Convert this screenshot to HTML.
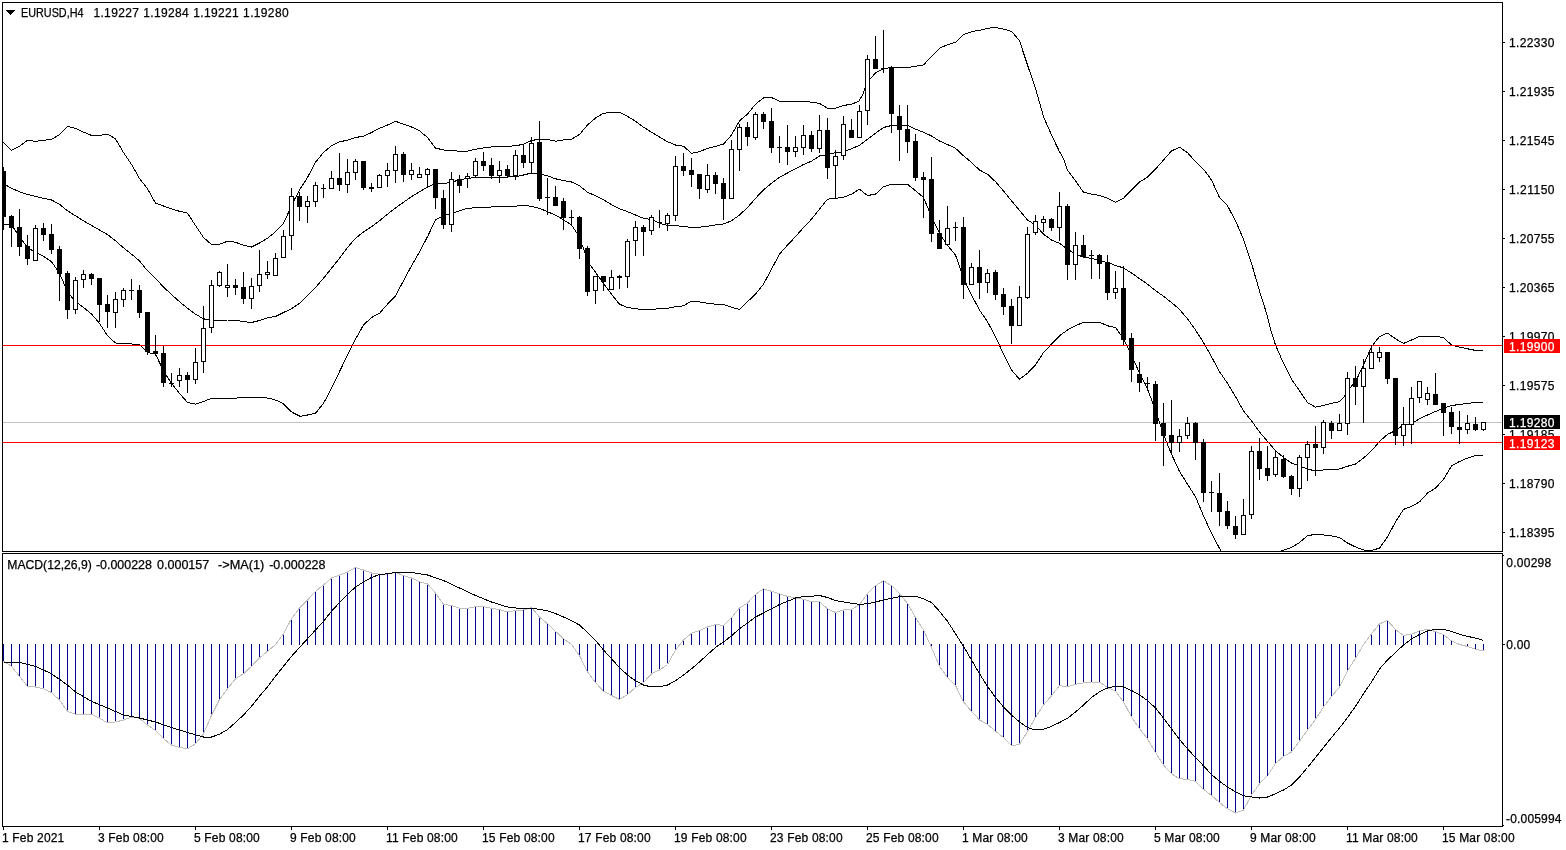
<!DOCTYPE html><html><head><meta charset="utf-8"><title>EURUSD,H4</title>
<style>html,body{margin:0;padding:0;background:#fff;overflow:hidden}svg{display:block}text{font-family:"Liberation Sans",sans-serif;font-size:12px;fill:#000;stroke:#000;stroke-width:.25px}.w{fill:#fff}.tw{fill:#fff;stroke:#fff}</style></head><body>
<svg width="1566" height="850" viewBox="0 0 1566 850">
<rect width="1566" height="850" fill="#fff"/>
<defs><clipPath id="cm"><rect x="3" y="3" width="1499" height="548"/></clipPath><clipPath id="cd"><rect x="3" y="554" width="1499" height="272"/></clipPath></defs>
<g shape-rendering="crispEdges" clip-path="url(#cm)">
<rect x="3" y="422" width="1499" height="1" fill="#c0c0c0"/>
<polyline points="3.5,142.3 11.5,150.3 19.5,146.3 27.5,140.3 35.5,141.3 43.5,140.3 51.5,139.4 59.5,134.6 67.5,126.3 75.5,128.4 83.5,132.1 91.5,135.4 99.5,135.4 107.5,134.1 115.5,138.8 123.5,152.5 131.5,164.4 139.5,178.5 147.5,188.8 155.5,203.1 163.5,206 171.5,208.8 179.5,211.3 187.5,213.1 195.5,225.5 203.5,237.5 211.5,244.5 219.5,244.2 227.5,241.3 235.5,242.2 243.5,245.3 251.5,247 259.5,243 267.5,238.3 275.5,231.7 283.5,223.3 289.3,210.8 294.3,200 299.5,190 307.5,177.5 315.5,162.2 323.5,152.5 331.5,145.8 339.5,141.7 347.5,140.3 355.5,137.5 363.5,136.2 371.5,132.5 379.5,128.3 387.5,125 395.5,121.3 403.5,124.2 411.5,127 419.5,130.8 427.5,137.5 435.5,148 443.5,150 451.5,150.5 459.5,151.2 467.5,151.2 475.5,149.2 483.5,148 491.5,147 499.5,146.7 507.5,146.3 515.5,145.8 523.5,144.2 531.5,140.5 539.5,139.2 547.5,139.5 555.5,141.2 563.5,140 571.5,139.2 579.5,134.5 587.5,125 595.5,118 603.5,113.3 611.5,112.2 619.5,112.2 627.5,116.3 635.5,121.3 643.5,127.2 651.5,132.2 659.5,137 667.5,141.7 675.5,145 683.5,146.2 691.5,153.3 699.5,151.7 707.5,148.3 715.5,146.3 723.5,144.2 731.5,135 739.5,120.8 747.5,114.2 755.5,104.2 763.5,98 771.5,97.5 779.5,101.3 787.5,101.3 795.5,101.3 803.5,101.3 811.5,102.2 819.5,103.3 827.5,108.3 835.5,108.3 843.5,105.5 851.5,104.2 858.8,101.3 863,94.2 865.5,86.7 870,79.2 875.5,73 883.5,68.8 891.5,67.5 899.5,67.5 907.5,67.5 915.5,66.3 923.5,65 928,60 931.5,56.7 939.5,48.3 947.5,44.7 955.5,42.2 963.5,34.7 971.5,31.7 979.5,30.3 987.5,28.3 995.5,27.5 1003.5,29.2 1011.5,31.3 1019.5,40.8 1027.5,65 1035.5,88.3 1043.5,116.7 1051.5,135 1059.5,151.7 1063.3,158.3 1067.5,170 1075.5,180.8 1083.5,192.2 1091.5,194.2 1099.5,195.3 1107.5,198.3 1115.5,202.2 1123.5,198.3 1131.5,190 1139.5,182 1147.5,177.2 1155.5,169.2 1163.5,160 1171.5,151 1179.5,147.2 1187.5,152.6 1195.5,161.7 1203.5,169.2 1211.5,180 1219.5,197.5 1227.5,205.8 1235.5,220.8 1243.5,239.2 1251.5,263.3 1259.5,291 1267.5,316.5 1270.8,330 1275.5,345 1283.5,363.3 1291.5,379.2 1299.5,390.8 1307.5,402.5 1315.5,407.2 1323.5,405.5 1331.5,403.3 1339.5,401.7 1344.2,396.7 1347.5,390.8 1355.5,381.7 1363.5,365 1371.5,346.7 1379.5,336.5 1387.5,333.1 1395.5,338.8 1403.5,343.4 1411.5,340 1419.5,336.3 1427.5,336.3 1435.5,336.3 1443.5,337.5 1451.5,345 1459.5,347.1 1467.5,348.8 1475.5,350.4 1483,350.4" fill="none" stroke="#000" stroke-width="1"/>
<polyline points="3,184 5.8,185 11.5,188.3 19.5,191.7 27.5,194.5 35.5,196.3 43.5,198.3 51.5,200 59.5,204.2 67.5,210.8 75.5,215.8 83.5,220.8 91.5,225.5 99.5,230 107.5,234.5 115.5,240.8 123.5,247.8 131.5,254.2 139.5,260.8 147.5,270.8 155.5,278.5 163.5,287 171.5,294.5 179.5,301.7 187.5,308.3 195.5,314.2 203.5,318.8 211.5,320.5 219.5,320.5 227.5,320 235.5,320 243.5,321.7 251.5,322.5 259.5,320.5 266,318.3 276,316.2 283.5,312.5 291.5,308.8 299.5,303.3 307.5,295.8 315.5,287.5 323.5,278.3 331.5,268.3 339.5,258.3 347.5,247.5 355.5,238.3 363.5,232 371.5,226.7 379.5,220.8 387.5,214.2 395.5,208 403.5,202.2 411.5,196.7 419.5,191.7 427.5,187 435.5,183.7 443.5,183.7 451.5,182 459.5,180 467.5,178.3 475.5,177.7 483.5,177.5 491.5,177.2 499.5,177 507.5,177 515.5,176.7 523.5,175 531.5,173 539.5,173.8 547.5,175.8 555.5,178.8 563.5,180.5 571.5,182 579.5,185.8 587.5,192.2 595.5,195.8 603.5,199.7 611.5,204.7 619.5,208.8 627.5,211.7 635.5,215 643.5,218.3 651.5,219.5 659.5,223.3 667.5,225.3 675.5,225.8 683.5,226.3 691.5,227.5 699.5,227.2 707.5,226.2 715.5,225 723.5,224 731.5,220.8 739.5,215 747.5,207.5 755.5,198.3 763.5,190 771.5,183.3 779.5,177.2 787.5,173 795.5,168.8 803.5,164.5 811.5,161.2 819.5,156 827.5,154.5 835.5,152.6 843.5,151.7 851.5,148.8 859.5,145.2 867.5,139.3 875.5,133.3 883.5,127.5 891.5,125.5 899.5,125.3 907.5,125.3 915.5,129.2 923.5,132.2 931.5,136 939.5,141 947.5,144.5 955.5,148.3 963.5,155.8 971.5,162.5 979.5,170 987.5,174.2 995.5,181.7 1003.5,191 1011.5,200.8 1019.5,210.4 1027.5,220 1035.5,225 1043.5,234.2 1051.5,240 1059.5,243.3 1067.5,249.2 1075.5,254 1083.5,257.2 1091.5,258.3 1099.5,260.6 1107.5,262.5 1115.5,265.4 1123.5,268 1131.5,273 1139.5,278.6 1147.5,284.2 1155.5,290.6 1163.5,296.3 1171.5,302.5 1179.5,309.4 1187.5,318.8 1195.5,330 1203.5,342.5 1211.5,356.7 1219.5,371.7 1227.5,383.3 1235.5,396.7 1243.5,410.8 1251.5,420.8 1259.5,432 1267.5,441.3 1275.5,450.8 1283.5,457.5 1291.5,463 1299.5,465.8 1307.5,469.2 1315.5,470.8 1323.5,470 1331.5,469.5 1339.5,469 1347.5,466.3 1355.5,464 1363.5,458 1371.5,450.8 1379.5,441.5 1387.5,434.4 1395.5,430.6 1403.5,425 1411.5,423.8 1419.5,418.8 1427.5,415 1435.5,411.5 1443.5,408.1 1451.5,405.6 1459.5,404.4 1467.5,403.5 1475.5,402.3 1483,402.3" fill="none" stroke="#000" stroke-width="1"/>
<polyline points="3.5,224.2 11.5,225 19.5,236.7 27.5,247.5 35.5,252.5 43.5,256.3 51.5,261.7 59.5,273.3 67.5,291.7 75.5,301.7 83.5,307.5 91.5,314 99.5,323.3 107.5,335.8 115.5,343 123.5,343.3 131.5,344 139.5,344.5 147.5,352.5 155.5,354 163.5,371 171.5,383.3 179.5,393.3 187.5,402.5 195.5,404.2 203.5,401.5 211.5,398.3 219.5,398.3 227.5,398.3 235.5,398.3 240,397.5 263.3,397.5 269.5,398.3 277.5,400.8 283.3,403.8 291.7,412 300,416.3 307.5,415 315.5,413.3 323.5,403.3 330.2,391 339.5,371.7 347.5,355 355.5,339.2 363.5,325 371.5,317.5 379.5,313.3 387.5,304.2 395.5,295.8 403.5,280.8 411.5,265.8 419.5,252 427.5,236.7 435.5,220 443.5,215.8 451.5,213.3 459.5,210.8 467.5,208.3 475.5,207.8 483.5,207.5 491.5,207 499.5,206.7 507.5,206.3 515.5,206.2 523.5,205.2 531.5,206.3 539.5,208.3 547.5,211.7 555.5,215.2 563.5,219.8 571.5,225 577,233.3 579.5,239 582.3,245.6 585,252.5 587.5,261.5 595.5,272.3 603.5,283.3 611.5,294.2 619.5,304.2 627.5,307.5 635.5,308.8 643.5,309.5 651.5,309.5 659.5,308.7 667.5,308.3 675.5,306.7 683.5,305.8 691.5,301.2 699.5,302 707.5,303.3 715.5,304.2 723.5,304.5 731.5,307.2 739.5,309.5 747.5,301.7 755.5,294.2 763.5,284.2 771.5,269.2 779.5,254.2 787.5,245 795.5,236.7 803.5,227.5 811.5,219.2 819.5,209.2 827.5,199.2 835.5,198.3 843.5,197.2 851.5,194.2 859.5,189.2 867.5,195.5 875.5,194.2 883.5,186.7 891.5,184.2 899.5,184.2 907.5,184.2 915.5,190.8 923.5,197.5 928.8,210 931.5,216.7 939.5,233.3 947.5,245.5 955.5,255 960.8,270 963.5,278.3 971.5,295 979.5,310 987.5,321.7 995.5,336.7 1003.5,354.2 1011.5,370 1019.5,379.2 1027.5,373.3 1035.5,365 1043.5,352.5 1051.5,344.2 1059.5,335.8 1067.5,330 1075.5,325.8 1083.5,322.2 1091.5,322.2 1099.5,322.2 1107.5,325.8 1115.5,327.5 1123.5,338.8 1131.5,355 1139.5,373 1147.5,389.2 1155.5,410 1163.5,434.5 1171.5,454.2 1179.5,471.5 1187.5,484.2 1195.5,496.7 1203.5,515.8 1211.5,533.3 1219.5,548.3 1227.5,563 1250,570 1270,556 1280.8,551 1291.5,547.5 1299.5,542.5 1307.5,535.8 1315.5,534.2 1323.5,535 1331.5,536 1335,536.3 1340.6,538.1 1347.5,543.1 1355.5,546.9 1363.5,550 1371.5,550.6 1379.5,548.1 1387.5,536.9 1395.5,521.9 1403.5,509.4 1411.5,506.3 1419.5,501.9 1427.5,493.1 1435.5,488.1 1443.5,479.4 1451.5,466 1459.5,461.5 1467.5,458.1 1475.5,455.4 1483,455.4" fill="none" stroke="#000" stroke-width="1"/>
<rect x="3" y="345" width="1499" height="1" fill="#f00"/>
<rect x="3" y="442" width="1499" height="1" fill="#f00"/>
<rect x="3" y="167" width="1" height="63"/>
<rect x="1" y="171" width="5" height="46"/>
<rect x="11" y="215" width="1" height="32"/>
<rect x="9" y="216" width="5" height="12"/>
<rect x="19" y="209" width="1" height="47"/>
<rect x="17" y="227" width="5" height="20"/>
<rect x="27" y="235" width="1" height="30"/>
<rect x="25" y="246" width="5" height="13"/>
<rect x="35" y="225" width="1" height="36"/>
<rect x="33" y="228" width="5" height="33"/>
<rect x="34" y="229" width="3" height="31" class="w"/>
<rect x="43" y="223" width="1" height="18"/>
<rect x="41" y="228" width="5" height="7"/>
<rect x="51" y="224" width="1" height="30"/>
<rect x="49" y="234" width="5" height="16"/>
<rect x="59" y="246" width="1" height="55"/>
<rect x="57" y="249" width="5" height="25"/>
<rect x="67" y="271" width="1" height="48"/>
<rect x="65" y="273" width="5" height="37"/>
<rect x="75" y="277" width="1" height="37"/>
<rect x="73" y="280" width="5" height="30"/>
<rect x="74" y="281" width="3" height="28" class="w"/>
<rect x="83" y="270" width="1" height="18"/>
<rect x="81" y="274" width="5" height="6"/>
<rect x="82" y="275" width="3" height="4" class="w"/>
<rect x="91" y="273" width="1" height="12"/>
<rect x="89" y="274" width="5" height="5"/>
<rect x="99" y="278" width="1" height="44"/>
<rect x="97" y="278" width="5" height="27"/>
<rect x="107" y="295" width="1" height="33"/>
<rect x="105" y="304" width="5" height="8"/>
<rect x="115" y="292" width="1" height="36"/>
<rect x="113" y="299" width="5" height="14"/>
<rect x="114" y="300" width="3" height="12" class="w"/>
<rect x="123" y="288" width="1" height="19"/>
<rect x="121" y="290" width="5" height="10"/>
<rect x="122" y="291" width="3" height="8" class="w"/>
<rect x="131" y="279" width="1" height="21"/>
<rect x="129" y="290" width="5" height="1"/>
<rect x="139" y="285" width="1" height="33"/>
<rect x="137" y="290" width="5" height="23"/>
<rect x="147" y="312" width="1" height="43"/>
<rect x="145" y="312" width="5" height="40"/>
<rect x="155" y="335" width="1" height="21"/>
<rect x="153" y="351" width="5" height="3"/>
<rect x="163" y="346" width="1" height="41"/>
<rect x="161" y="353" width="5" height="30"/>
<rect x="171" y="373" width="1" height="14"/>
<rect x="169" y="383" width="5" height="1"/>
<rect x="179" y="368" width="1" height="19"/>
<rect x="177" y="375" width="5" height="6"/>
<rect x="178" y="376" width="3" height="4" class="w"/>
<rect x="187" y="372" width="1" height="21"/>
<rect x="185" y="375" width="5" height="5"/>
<rect x="195" y="348" width="1" height="36"/>
<rect x="193" y="362" width="5" height="18"/>
<rect x="194" y="363" width="3" height="16" class="w"/>
<rect x="203" y="306" width="1" height="67"/>
<rect x="201" y="328" width="5" height="34"/>
<rect x="202" y="329" width="3" height="32" class="w"/>
<rect x="211" y="280" width="1" height="53"/>
<rect x="209" y="285" width="5" height="43"/>
<rect x="210" y="286" width="3" height="41" class="w"/>
<rect x="219" y="271" width="1" height="16"/>
<rect x="217" y="272" width="5" height="14"/>
<rect x="218" y="273" width="3" height="12" class="w"/>
<rect x="227" y="264" width="1" height="33"/>
<rect x="225" y="285" width="5" height="3"/>
<rect x="226" y="286" width="3" height="1" class="w"/>
<rect x="235" y="279" width="1" height="16"/>
<rect x="233" y="285" width="5" height="3"/>
<rect x="243" y="272" width="1" height="32"/>
<rect x="241" y="287" width="5" height="12"/>
<rect x="251" y="278" width="1" height="31"/>
<rect x="249" y="286" width="5" height="13"/>
<rect x="250" y="287" width="3" height="11" class="w"/>
<rect x="259" y="250" width="1" height="42"/>
<rect x="257" y="274" width="5" height="12"/>
<rect x="258" y="275" width="3" height="10" class="w"/>
<rect x="267" y="261" width="1" height="18"/>
<rect x="265" y="272" width="5" height="3"/>
<rect x="266" y="273" width="3" height="1" class="w"/>
<rect x="275" y="253" width="1" height="23"/>
<rect x="273" y="258" width="5" height="18"/>
<rect x="274" y="259" width="3" height="16" class="w"/>
<rect x="283" y="230" width="1" height="28"/>
<rect x="281" y="236" width="5" height="22"/>
<rect x="282" y="237" width="3" height="20" class="w"/>
<rect x="291" y="188" width="1" height="62"/>
<rect x="289" y="196" width="5" height="40"/>
<rect x="290" y="197" width="3" height="38" class="w"/>
<rect x="299" y="192" width="1" height="29"/>
<rect x="297" y="196" width="5" height="11"/>
<rect x="307" y="196" width="1" height="27"/>
<rect x="305" y="201" width="5" height="6"/>
<rect x="306" y="202" width="3" height="4" class="w"/>
<rect x="315" y="182" width="1" height="25"/>
<rect x="313" y="185" width="5" height="17"/>
<rect x="314" y="186" width="3" height="15" class="w"/>
<rect x="323" y="184" width="1" height="14"/>
<rect x="321" y="188" width="5" height="1"/>
<rect x="331" y="171" width="1" height="18"/>
<rect x="329" y="178" width="5" height="11"/>
<rect x="330" y="179" width="3" height="9" class="w"/>
<rect x="339" y="153" width="1" height="38"/>
<rect x="337" y="178" width="5" height="7"/>
<rect x="347" y="159" width="1" height="34"/>
<rect x="345" y="172" width="5" height="13"/>
<rect x="346" y="173" width="3" height="11" class="w"/>
<rect x="355" y="159" width="1" height="21"/>
<rect x="353" y="161" width="5" height="12"/>
<rect x="354" y="162" width="3" height="10" class="w"/>
<rect x="363" y="161" width="1" height="29"/>
<rect x="361" y="161" width="5" height="27"/>
<rect x="371" y="183" width="1" height="9"/>
<rect x="369" y="187" width="5" height="2"/>
<rect x="379" y="174" width="1" height="14"/>
<rect x="377" y="175" width="5" height="13"/>
<rect x="378" y="176" width="3" height="11" class="w"/>
<rect x="387" y="163" width="1" height="24"/>
<rect x="385" y="170" width="5" height="6"/>
<rect x="386" y="171" width="3" height="4" class="w"/>
<rect x="395" y="146" width="1" height="37"/>
<rect x="393" y="154" width="5" height="17"/>
<rect x="394" y="155" width="3" height="15" class="w"/>
<rect x="403" y="152" width="1" height="30"/>
<rect x="401" y="154" width="5" height="21"/>
<rect x="411" y="163" width="1" height="17"/>
<rect x="409" y="170" width="5" height="5"/>
<rect x="410" y="171" width="3" height="3" class="w"/>
<rect x="419" y="167" width="1" height="11"/>
<rect x="417" y="174" width="5" height="4"/>
<rect x="418" y="175" width="3" height="2" class="w"/>
<rect x="427" y="168" width="1" height="18"/>
<rect x="425" y="169" width="5" height="6"/>
<rect x="426" y="170" width="3" height="4" class="w"/>
<rect x="435" y="169" width="1" height="40"/>
<rect x="433" y="169" width="5" height="29"/>
<rect x="443" y="190" width="1" height="39"/>
<rect x="441" y="198" width="5" height="27"/>
<rect x="451" y="172" width="1" height="60"/>
<rect x="449" y="179" width="5" height="46"/>
<rect x="450" y="180" width="3" height="44" class="w"/>
<rect x="459" y="175" width="1" height="18"/>
<rect x="457" y="179" width="5" height="7"/>
<rect x="467" y="173" width="1" height="15"/>
<rect x="465" y="176" width="5" height="3"/>
<rect x="466" y="177" width="3" height="1" class="w"/>
<rect x="475" y="158" width="1" height="19"/>
<rect x="473" y="161" width="5" height="15"/>
<rect x="474" y="162" width="3" height="13" class="w"/>
<rect x="483" y="152" width="1" height="19"/>
<rect x="481" y="161" width="5" height="5"/>
<rect x="491" y="158" width="1" height="21"/>
<rect x="489" y="165" width="5" height="11"/>
<rect x="499" y="161" width="1" height="22"/>
<rect x="497" y="170" width="5" height="6"/>
<rect x="498" y="171" width="3" height="4" class="w"/>
<rect x="507" y="165" width="1" height="13"/>
<rect x="505" y="169" width="5" height="7"/>
<rect x="515" y="150" width="1" height="30"/>
<rect x="513" y="155" width="5" height="21"/>
<rect x="514" y="156" width="3" height="19" class="w"/>
<rect x="523" y="144" width="1" height="24"/>
<rect x="521" y="155" width="5" height="8"/>
<rect x="531" y="137" width="1" height="36"/>
<rect x="529" y="143" width="5" height="20"/>
<rect x="530" y="144" width="3" height="18" class="w"/>
<rect x="539" y="121" width="1" height="80"/>
<rect x="537" y="142" width="5" height="57"/>
<rect x="547" y="178" width="1" height="37"/>
<rect x="545" y="197" width="5" height="1"/>
<rect x="555" y="186" width="1" height="20"/>
<rect x="553" y="197" width="5" height="9"/>
<rect x="563" y="198" width="1" height="32"/>
<rect x="561" y="201" width="5" height="17"/>
<rect x="571" y="210" width="1" height="16"/>
<rect x="569" y="217" width="5" height="1"/>
<rect x="579" y="216" width="1" height="43"/>
<rect x="577" y="217" width="5" height="32"/>
<rect x="587" y="246" width="1" height="50"/>
<rect x="585" y="248" width="5" height="44"/>
<rect x="595" y="276" width="1" height="28"/>
<rect x="593" y="276" width="5" height="15"/>
<rect x="594" y="277" width="3" height="13" class="w"/>
<rect x="603" y="276" width="1" height="15"/>
<rect x="601" y="276" width="5" height="6"/>
<rect x="611" y="270" width="1" height="20"/>
<rect x="609" y="277" width="5" height="13"/>
<rect x="610" y="278" width="3" height="11" class="w"/>
<rect x="619" y="275" width="1" height="14"/>
<rect x="617" y="276" width="5" height="2"/>
<rect x="627" y="239" width="1" height="49"/>
<rect x="625" y="241" width="5" height="36"/>
<rect x="626" y="242" width="3" height="34" class="w"/>
<rect x="635" y="221" width="1" height="35"/>
<rect x="633" y="227" width="5" height="14"/>
<rect x="634" y="228" width="3" height="12" class="w"/>
<rect x="643" y="225" width="1" height="31"/>
<rect x="641" y="227" width="5" height="5"/>
<rect x="651" y="215" width="1" height="20"/>
<rect x="649" y="217" width="5" height="14"/>
<rect x="650" y="218" width="3" height="12" class="w"/>
<rect x="659" y="210" width="1" height="18"/>
<rect x="657" y="222" width="5" height="1"/>
<rect x="667" y="213" width="1" height="18"/>
<rect x="665" y="215" width="5" height="9"/>
<rect x="666" y="216" width="3" height="7" class="w"/>
<rect x="675" y="156" width="1" height="65"/>
<rect x="673" y="166" width="5" height="50"/>
<rect x="674" y="167" width="3" height="48" class="w"/>
<rect x="683" y="153" width="1" height="23"/>
<rect x="681" y="166" width="5" height="5"/>
<rect x="691" y="158" width="1" height="29"/>
<rect x="689" y="170" width="5" height="5"/>
<rect x="699" y="174" width="1" height="25"/>
<rect x="697" y="174" width="5" height="15"/>
<rect x="707" y="164" width="1" height="29"/>
<rect x="705" y="175" width="5" height="15"/>
<rect x="706" y="176" width="3" height="13" class="w"/>
<rect x="715" y="172" width="1" height="22"/>
<rect x="713" y="175" width="5" height="9"/>
<rect x="723" y="178" width="1" height="42"/>
<rect x="721" y="183" width="5" height="16"/>
<rect x="731" y="140" width="1" height="59"/>
<rect x="729" y="149" width="5" height="50"/>
<rect x="730" y="150" width="3" height="48" class="w"/>
<rect x="739" y="124" width="1" height="47"/>
<rect x="737" y="127" width="5" height="23"/>
<rect x="738" y="128" width="3" height="21" class="w"/>
<rect x="747" y="122" width="1" height="24"/>
<rect x="745" y="127" width="5" height="10"/>
<rect x="755" y="112" width="1" height="28"/>
<rect x="753" y="114" width="5" height="24"/>
<rect x="754" y="115" width="3" height="22" class="w"/>
<rect x="763" y="112" width="1" height="17"/>
<rect x="761" y="114" width="5" height="8"/>
<rect x="771" y="108" width="1" height="45"/>
<rect x="769" y="121" width="5" height="27"/>
<rect x="779" y="136" width="1" height="27"/>
<rect x="777" y="147" width="5" height="1"/>
<rect x="787" y="125" width="1" height="40"/>
<rect x="785" y="147" width="5" height="5"/>
<rect x="795" y="136" width="1" height="21"/>
<rect x="793" y="147" width="5" height="5"/>
<rect x="794" y="148" width="3" height="3" class="w"/>
<rect x="803" y="125" width="1" height="30"/>
<rect x="801" y="135" width="5" height="13"/>
<rect x="802" y="136" width="3" height="11" class="w"/>
<rect x="811" y="131" width="1" height="21"/>
<rect x="809" y="135" width="5" height="14"/>
<rect x="819" y="115" width="1" height="38"/>
<rect x="817" y="130" width="5" height="19"/>
<rect x="818" y="131" width="3" height="17" class="w"/>
<rect x="827" y="118" width="1" height="61"/>
<rect x="825" y="130" width="5" height="38"/>
<rect x="835" y="150" width="1" height="48"/>
<rect x="833" y="156" width="5" height="10"/>
<rect x="834" y="157" width="3" height="8" class="w"/>
<rect x="843" y="116" width="1" height="44"/>
<rect x="841" y="124" width="5" height="32"/>
<rect x="842" y="125" width="3" height="30" class="w"/>
<rect x="851" y="119" width="1" height="19"/>
<rect x="849" y="130" width="5" height="8"/>
<rect x="859" y="105" width="1" height="33"/>
<rect x="857" y="111" width="5" height="27"/>
<rect x="858" y="112" width="3" height="25" class="w"/>
<rect x="867" y="55" width="1" height="70"/>
<rect x="865" y="59" width="5" height="52"/>
<rect x="866" y="60" width="3" height="50" class="w"/>
<rect x="875" y="36" width="1" height="33"/>
<rect x="873" y="59" width="5" height="10"/>
<rect x="883" y="30" width="1" height="43"/>
<rect x="881" y="68" width="5" height="1"/>
<rect x="891" y="66" width="1" height="67"/>
<rect x="889" y="67" width="5" height="47"/>
<rect x="899" y="105" width="1" height="56"/>
<rect x="897" y="116" width="5" height="14"/>
<rect x="907" y="105" width="1" height="48"/>
<rect x="905" y="129" width="5" height="13"/>
<rect x="915" y="134" width="1" height="47"/>
<rect x="913" y="141" width="5" height="37"/>
<rect x="923" y="172" width="1" height="46"/>
<rect x="921" y="177" width="5" height="3"/>
<rect x="931" y="157" width="1" height="85"/>
<rect x="929" y="179" width="5" height="55"/>
<rect x="939" y="220" width="1" height="29"/>
<rect x="937" y="233" width="5" height="16"/>
<rect x="947" y="206" width="1" height="39"/>
<rect x="945" y="228" width="5" height="17"/>
<rect x="946" y="229" width="3" height="15" class="w"/>
<rect x="955" y="222" width="1" height="19"/>
<rect x="953" y="227" width="5" height="1"/>
<rect x="963" y="217" width="1" height="82"/>
<rect x="961" y="227" width="5" height="58"/>
<rect x="971" y="263" width="1" height="22"/>
<rect x="969" y="267" width="5" height="18"/>
<rect x="970" y="268" width="3" height="16" class="w"/>
<rect x="979" y="250" width="1" height="49"/>
<rect x="977" y="267" width="5" height="16"/>
<rect x="987" y="269" width="1" height="24"/>
<rect x="985" y="273" width="5" height="10"/>
<rect x="986" y="274" width="3" height="8" class="w"/>
<rect x="995" y="270" width="1" height="30"/>
<rect x="993" y="272" width="5" height="23"/>
<rect x="1003" y="288" width="1" height="27"/>
<rect x="1001" y="294" width="5" height="13"/>
<rect x="1011" y="299" width="1" height="45"/>
<rect x="1009" y="306" width="5" height="20"/>
<rect x="1019" y="286" width="1" height="40"/>
<rect x="1017" y="297" width="5" height="29"/>
<rect x="1018" y="298" width="3" height="27" class="w"/>
<rect x="1027" y="227" width="1" height="72"/>
<rect x="1025" y="234" width="5" height="64"/>
<rect x="1026" y="235" width="3" height="62" class="w"/>
<rect x="1035" y="215" width="1" height="20"/>
<rect x="1033" y="221" width="5" height="12"/>
<rect x="1034" y="222" width="3" height="10" class="w"/>
<rect x="1043" y="216" width="1" height="16"/>
<rect x="1041" y="219" width="5" height="4"/>
<rect x="1042" y="220" width="3" height="2" class="w"/>
<rect x="1051" y="218" width="1" height="13"/>
<rect x="1049" y="219" width="5" height="9"/>
<rect x="1059" y="192" width="1" height="49"/>
<rect x="1057" y="206" width="5" height="22"/>
<rect x="1058" y="207" width="3" height="20" class="w"/>
<rect x="1067" y="204" width="1" height="76"/>
<rect x="1065" y="206" width="5" height="59"/>
<rect x="1075" y="232" width="1" height="48"/>
<rect x="1073" y="245" width="5" height="20"/>
<rect x="1074" y="246" width="3" height="18" class="w"/>
<rect x="1083" y="235" width="1" height="22"/>
<rect x="1081" y="245" width="5" height="12"/>
<rect x="1091" y="250" width="1" height="29"/>
<rect x="1089" y="255" width="5" height="1"/>
<rect x="1099" y="254" width="1" height="25"/>
<rect x="1097" y="255" width="5" height="9"/>
<rect x="1107" y="255" width="1" height="45"/>
<rect x="1105" y="262" width="5" height="31"/>
<rect x="1115" y="271" width="1" height="28"/>
<rect x="1113" y="288" width="5" height="5"/>
<rect x="1114" y="289" width="3" height="3" class="w"/>
<rect x="1123" y="266" width="1" height="79"/>
<rect x="1121" y="288" width="5" height="52"/>
<rect x="1131" y="333" width="1" height="49"/>
<rect x="1129" y="338" width="5" height="32"/>
<rect x="1139" y="362" width="1" height="30"/>
<rect x="1137" y="374" width="5" height="9"/>
<rect x="1147" y="377" width="1" height="11"/>
<rect x="1145" y="383" width="5" height="1"/>
<rect x="1155" y="381" width="1" height="60"/>
<rect x="1153" y="384" width="5" height="40"/>
<rect x="1163" y="403" width="1" height="63"/>
<rect x="1161" y="423" width="5" height="13"/>
<rect x="1171" y="400" width="1" height="53"/>
<rect x="1169" y="435" width="5" height="8"/>
<rect x="1179" y="429" width="1" height="23"/>
<rect x="1177" y="436" width="5" height="7"/>
<rect x="1178" y="437" width="3" height="5" class="w"/>
<rect x="1187" y="417" width="1" height="22"/>
<rect x="1185" y="423" width="5" height="13"/>
<rect x="1186" y="424" width="3" height="11" class="w"/>
<rect x="1195" y="422" width="1" height="38"/>
<rect x="1193" y="423" width="5" height="20"/>
<rect x="1203" y="439" width="1" height="63"/>
<rect x="1201" y="442" width="5" height="51"/>
<rect x="1211" y="481" width="1" height="31"/>
<rect x="1209" y="492" width="5" height="1"/>
<rect x="1219" y="473" width="1" height="53"/>
<rect x="1217" y="493" width="5" height="19"/>
<rect x="1227" y="501" width="1" height="28"/>
<rect x="1225" y="511" width="5" height="15"/>
<rect x="1235" y="516" width="1" height="23"/>
<rect x="1233" y="526" width="5" height="9"/>
<rect x="1243" y="499" width="1" height="36"/>
<rect x="1241" y="515" width="5" height="20"/>
<rect x="1242" y="516" width="3" height="18" class="w"/>
<rect x="1251" y="446" width="1" height="73"/>
<rect x="1249" y="451" width="5" height="64"/>
<rect x="1250" y="452" width="3" height="62" class="w"/>
<rect x="1259" y="438" width="1" height="42"/>
<rect x="1257" y="451" width="5" height="18"/>
<rect x="1267" y="446" width="1" height="35"/>
<rect x="1265" y="468" width="5" height="8"/>
<rect x="1275" y="451" width="1" height="26"/>
<rect x="1273" y="457" width="5" height="18"/>
<rect x="1274" y="458" width="3" height="16" class="w"/>
<rect x="1283" y="455" width="1" height="23"/>
<rect x="1281" y="459" width="5" height="18"/>
<rect x="1291" y="475" width="1" height="20"/>
<rect x="1289" y="476" width="5" height="13"/>
<rect x="1299" y="455" width="1" height="42"/>
<rect x="1297" y="457" width="5" height="32"/>
<rect x="1298" y="458" width="3" height="30" class="w"/>
<rect x="1307" y="441" width="1" height="40"/>
<rect x="1305" y="444" width="5" height="14"/>
<rect x="1306" y="445" width="3" height="12" class="w"/>
<rect x="1315" y="426" width="1" height="50"/>
<rect x="1313" y="444" width="5" height="4"/>
<rect x="1323" y="420" width="1" height="34"/>
<rect x="1321" y="422" width="5" height="26"/>
<rect x="1322" y="423" width="3" height="24" class="w"/>
<rect x="1331" y="421" width="1" height="18"/>
<rect x="1329" y="423" width="5" height="8"/>
<rect x="1339" y="414" width="1" height="17"/>
<rect x="1337" y="423" width="5" height="8"/>
<rect x="1338" y="424" width="3" height="6" class="w"/>
<rect x="1347" y="372" width="1" height="63"/>
<rect x="1345" y="378" width="5" height="46"/>
<rect x="1346" y="379" width="3" height="44" class="w"/>
<rect x="1355" y="366" width="1" height="39"/>
<rect x="1353" y="378" width="5" height="9"/>
<rect x="1363" y="359" width="1" height="64"/>
<rect x="1361" y="368" width="5" height="19"/>
<rect x="1362" y="369" width="3" height="17" class="w"/>
<rect x="1371" y="345" width="1" height="24"/>
<rect x="1369" y="352" width="5" height="17"/>
<rect x="1370" y="353" width="3" height="15" class="w"/>
<rect x="1379" y="347" width="1" height="15"/>
<rect x="1377" y="352" width="5" height="6"/>
<rect x="1378" y="353" width="3" height="4" class="w"/>
<rect x="1387" y="352" width="1" height="32"/>
<rect x="1385" y="352" width="5" height="27"/>
<rect x="1395" y="378" width="1" height="67"/>
<rect x="1393" y="378" width="5" height="58"/>
<rect x="1403" y="407" width="1" height="39"/>
<rect x="1401" y="424" width="5" height="12"/>
<rect x="1402" y="425" width="3" height="10" class="w"/>
<rect x="1411" y="387" width="1" height="57"/>
<rect x="1409" y="398" width="5" height="27"/>
<rect x="1410" y="399" width="3" height="25" class="w"/>
<rect x="1419" y="381" width="1" height="22"/>
<rect x="1417" y="381" width="5" height="17"/>
<rect x="1418" y="382" width="3" height="15" class="w"/>
<rect x="1427" y="387" width="1" height="18"/>
<rect x="1425" y="393" width="5" height="7"/>
<rect x="1426" y="394" width="3" height="5" class="w"/>
<rect x="1435" y="373" width="1" height="32"/>
<rect x="1433" y="394" width="5" height="11"/>
<rect x="1443" y="403" width="1" height="33"/>
<rect x="1441" y="403" width="5" height="10"/>
<rect x="1451" y="407" width="1" height="27"/>
<rect x="1449" y="412" width="5" height="15"/>
<rect x="1459" y="411" width="1" height="33"/>
<rect x="1457" y="427" width="5" height="3"/>
<rect x="1467" y="415" width="1" height="19"/>
<rect x="1465" y="423" width="5" height="7"/>
<rect x="1466" y="424" width="3" height="5" class="w"/>
<rect x="1475" y="417" width="1" height="14"/>
<rect x="1473" y="424" width="5" height="6"/>
<rect x="1483" y="422" width="1" height="9"/>
<rect x="1481" y="422" width="5" height="8"/>
<rect x="1482" y="423" width="3" height="6" class="w"/>
</g>
<g shape-rendering="crispEdges" clip-path="url(#cd)">
<rect x="3" y="644" width="1" height="17" fill="#00008b"/>
<rect x="11" y="644" width="1" height="22" fill="#00008b"/>
<rect x="19" y="644" width="1" height="32" fill="#00008b"/>
<rect x="27" y="644" width="1" height="42" fill="#00008b"/>
<rect x="35" y="644" width="1" height="43" fill="#00008b"/>
<rect x="43" y="644" width="1" height="45" fill="#00008b"/>
<rect x="51" y="644" width="1" height="48" fill="#00008b"/>
<rect x="59" y="644" width="1" height="56" fill="#00008b"/>
<rect x="67" y="644" width="1" height="67" fill="#00008b"/>
<rect x="75" y="644" width="1" height="70" fill="#00008b"/>
<rect x="83" y="644" width="1" height="70" fill="#00008b"/>
<rect x="91" y="644" width="1" height="70" fill="#00008b"/>
<rect x="99" y="644" width="1" height="74" fill="#00008b"/>
<rect x="107" y="644" width="1" height="79" fill="#00008b"/>
<rect x="115" y="644" width="1" height="78" fill="#00008b"/>
<rect x="123" y="644" width="1" height="76" fill="#00008b"/>
<rect x="131" y="644" width="1" height="73" fill="#00008b"/>
<rect x="139" y="644" width="1" height="74" fill="#00008b"/>
<rect x="147" y="644" width="1" height="81" fill="#00008b"/>
<rect x="155" y="644" width="1" height="86" fill="#00008b"/>
<rect x="163" y="644" width="1" height="95" fill="#00008b"/>
<rect x="171" y="644" width="1" height="101" fill="#00008b"/>
<rect x="179" y="644" width="1" height="104" fill="#00008b"/>
<rect x="187" y="644" width="1" height="105" fill="#00008b"/>
<rect x="195" y="644" width="1" height="100" fill="#00008b"/>
<rect x="203" y="644" width="1" height="90" fill="#00008b"/>
<rect x="211" y="644" width="1" height="72" fill="#00008b"/>
<rect x="219" y="644" width="1" height="56" fill="#00008b"/>
<rect x="227" y="644" width="1" height="45" fill="#00008b"/>
<rect x="235" y="644" width="1" height="35" fill="#00008b"/>
<rect x="243" y="644" width="1" height="30" fill="#00008b"/>
<rect x="251" y="644" width="1" height="22" fill="#00008b"/>
<rect x="259" y="644" width="1" height="14" fill="#00008b"/>
<rect x="267" y="644" width="1" height="7" fill="#00008b"/>
<rect x="275" y="644" width="1" height="1" fill="#00008b"/>
<rect x="283" y="634" width="1" height="11" fill="#00008b"/>
<rect x="291" y="619" width="1" height="26" fill="#00008b"/>
<rect x="299" y="608" width="1" height="37" fill="#00008b"/>
<rect x="307" y="600" width="1" height="45" fill="#00008b"/>
<rect x="315" y="591" width="1" height="54" fill="#00008b"/>
<rect x="323" y="585" width="1" height="60" fill="#00008b"/>
<rect x="331" y="578" width="1" height="67" fill="#00008b"/>
<rect x="339" y="575" width="1" height="70" fill="#00008b"/>
<rect x="347" y="572" width="1" height="73" fill="#00008b"/>
<rect x="355" y="568" width="1" height="77" fill="#00008b"/>
<rect x="363" y="570" width="1" height="75" fill="#00008b"/>
<rect x="371" y="573" width="1" height="72" fill="#00008b"/>
<rect x="379" y="574" width="1" height="71" fill="#00008b"/>
<rect x="387" y="574" width="1" height="71" fill="#00008b"/>
<rect x="395" y="572" width="1" height="73" fill="#00008b"/>
<rect x="403" y="576" width="1" height="69" fill="#00008b"/>
<rect x="411" y="578" width="1" height="67" fill="#00008b"/>
<rect x="419" y="582" width="1" height="63" fill="#00008b"/>
<rect x="427" y="584" width="1" height="61" fill="#00008b"/>
<rect x="435" y="593" width="1" height="52" fill="#00008b"/>
<rect x="443" y="604" width="1" height="41" fill="#00008b"/>
<rect x="451" y="606" width="1" height="39" fill="#00008b"/>
<rect x="459" y="608" width="1" height="37" fill="#00008b"/>
<rect x="467" y="608" width="1" height="37" fill="#00008b"/>
<rect x="475" y="607" width="1" height="38" fill="#00008b"/>
<rect x="483" y="607" width="1" height="38" fill="#00008b"/>
<rect x="491" y="608" width="1" height="37" fill="#00008b"/>
<rect x="499" y="610" width="1" height="35" fill="#00008b"/>
<rect x="507" y="612" width="1" height="33" fill="#00008b"/>
<rect x="515" y="610" width="1" height="35" fill="#00008b"/>
<rect x="523" y="610" width="1" height="35" fill="#00008b"/>
<rect x="531" y="608" width="1" height="37" fill="#00008b"/>
<rect x="539" y="617" width="1" height="28" fill="#00008b"/>
<rect x="547" y="624" width="1" height="21" fill="#00008b"/>
<rect x="555" y="631" width="1" height="14" fill="#00008b"/>
<rect x="563" y="639" width="1" height="6" fill="#00008b"/>
<rect x="571" y="644" width="1" height="1" fill="#00008b"/>
<rect x="579" y="644" width="1" height="12" fill="#00008b"/>
<rect x="587" y="644" width="1" height="28" fill="#00008b"/>
<rect x="595" y="644" width="1" height="38" fill="#00008b"/>
<rect x="603" y="644" width="1" height="47" fill="#00008b"/>
<rect x="611" y="644" width="1" height="52" fill="#00008b"/>
<rect x="619" y="644" width="1" height="56" fill="#00008b"/>
<rect x="627" y="644" width="1" height="50" fill="#00008b"/>
<rect x="635" y="644" width="1" height="44" fill="#00008b"/>
<rect x="643" y="644" width="1" height="38" fill="#00008b"/>
<rect x="651" y="644" width="1" height="30" fill="#00008b"/>
<rect x="659" y="644" width="1" height="26" fill="#00008b"/>
<rect x="667" y="644" width="1" height="20" fill="#00008b"/>
<rect x="675" y="644" width="1" height="6" fill="#00008b"/>
<rect x="683" y="640" width="1" height="5" fill="#00008b"/>
<rect x="691" y="633" width="1" height="12" fill="#00008b"/>
<rect x="699" y="630" width="1" height="15" fill="#00008b"/>
<rect x="707" y="627" width="1" height="18" fill="#00008b"/>
<rect x="715" y="624" width="1" height="21" fill="#00008b"/>
<rect x="723" y="626" width="1" height="19" fill="#00008b"/>
<rect x="731" y="618" width="1" height="27" fill="#00008b"/>
<rect x="739" y="608" width="1" height="37" fill="#00008b"/>
<rect x="747" y="603" width="1" height="42" fill="#00008b"/>
<rect x="755" y="594" width="1" height="51" fill="#00008b"/>
<rect x="763" y="589" width="1" height="56" fill="#00008b"/>
<rect x="771" y="591" width="1" height="54" fill="#00008b"/>
<rect x="779" y="594" width="1" height="51" fill="#00008b"/>
<rect x="787" y="596" width="1" height="49" fill="#00008b"/>
<rect x="795" y="598" width="1" height="47" fill="#00008b"/>
<rect x="803" y="599" width="1" height="46" fill="#00008b"/>
<rect x="811" y="602" width="1" height="43" fill="#00008b"/>
<rect x="819" y="602" width="1" height="43" fill="#00008b"/>
<rect x="827" y="609" width="1" height="36" fill="#00008b"/>
<rect x="835" y="612" width="1" height="33" fill="#00008b"/>
<rect x="843" y="610" width="1" height="35" fill="#00008b"/>
<rect x="851" y="610" width="1" height="35" fill="#00008b"/>
<rect x="859" y="604" width="1" height="41" fill="#00008b"/>
<rect x="867" y="594" width="1" height="51" fill="#00008b"/>
<rect x="875" y="586" width="1" height="59" fill="#00008b"/>
<rect x="883" y="581" width="1" height="64" fill="#00008b"/>
<rect x="891" y="586" width="1" height="59" fill="#00008b"/>
<rect x="899" y="594" width="1" height="51" fill="#00008b"/>
<rect x="907" y="603" width="1" height="42" fill="#00008b"/>
<rect x="915" y="618" width="1" height="27" fill="#00008b"/>
<rect x="923" y="630" width="1" height="15" fill="#00008b"/>
<rect x="931" y="644" width="1" height="4" fill="#00008b"/>
<rect x="939" y="644" width="1" height="22" fill="#00008b"/>
<rect x="947" y="644" width="1" height="34" fill="#00008b"/>
<rect x="955" y="644" width="1" height="42" fill="#00008b"/>
<rect x="963" y="644" width="1" height="58" fill="#00008b"/>
<rect x="971" y="644" width="1" height="67" fill="#00008b"/>
<rect x="979" y="644" width="1" height="76" fill="#00008b"/>
<rect x="987" y="644" width="1" height="80" fill="#00008b"/>
<rect x="995" y="644" width="1" height="87" fill="#00008b"/>
<rect x="1003" y="644" width="1" height="94" fill="#00008b"/>
<rect x="1011" y="644" width="1" height="102" fill="#00008b"/>
<rect x="1019" y="644" width="1" height="100" fill="#00008b"/>
<rect x="1027" y="644" width="1" height="87" fill="#00008b"/>
<rect x="1035" y="644" width="1" height="74" fill="#00008b"/>
<rect x="1043" y="644" width="1" height="61" fill="#00008b"/>
<rect x="1051" y="644" width="1" height="52" fill="#00008b"/>
<rect x="1059" y="644" width="1" height="42" fill="#00008b"/>
<rect x="1067" y="644" width="1" height="43" fill="#00008b"/>
<rect x="1075" y="644" width="1" height="40" fill="#00008b"/>
<rect x="1083" y="644" width="1" height="39" fill="#00008b"/>
<rect x="1091" y="644" width="1" height="38" fill="#00008b"/>
<rect x="1099" y="644" width="1" height="38" fill="#00008b"/>
<rect x="1107" y="644" width="1" height="44" fill="#00008b"/>
<rect x="1115" y="644" width="1" height="47" fill="#00008b"/>
<rect x="1123" y="644" width="1" height="58" fill="#00008b"/>
<rect x="1131" y="644" width="1" height="73" fill="#00008b"/>
<rect x="1139" y="644" width="1" height="84" fill="#00008b"/>
<rect x="1147" y="644" width="1" height="95" fill="#00008b"/>
<rect x="1155" y="644" width="1" height="108" fill="#00008b"/>
<rect x="1163" y="644" width="1" height="121" fill="#00008b"/>
<rect x="1171" y="644" width="1" height="130" fill="#00008b"/>
<rect x="1179" y="644" width="1" height="135" fill="#00008b"/>
<rect x="1187" y="644" width="1" height="135" fill="#00008b"/>
<rect x="1195" y="644" width="1" height="137" fill="#00008b"/>
<rect x="1203" y="644" width="1" height="145" fill="#00008b"/>
<rect x="1211" y="644" width="1" height="152" fill="#00008b"/>
<rect x="1219" y="644" width="1" height="158" fill="#00008b"/>
<rect x="1227" y="644" width="1" height="165" fill="#00008b"/>
<rect x="1235" y="644" width="1" height="169" fill="#00008b"/>
<rect x="1243" y="644" width="1" height="166" fill="#00008b"/>
<rect x="1251" y="644" width="1" height="151" fill="#00008b"/>
<rect x="1259" y="644" width="1" height="140" fill="#00008b"/>
<rect x="1267" y="644" width="1" height="132" fill="#00008b"/>
<rect x="1275" y="644" width="1" height="120" fill="#00008b"/>
<rect x="1283" y="644" width="1" height="112" fill="#00008b"/>
<rect x="1291" y="644" width="1" height="108" fill="#00008b"/>
<rect x="1299" y="644" width="1" height="97" fill="#00008b"/>
<rect x="1307" y="644" width="1" height="86" fill="#00008b"/>
<rect x="1315" y="644" width="1" height="75" fill="#00008b"/>
<rect x="1323" y="644" width="1" height="63" fill="#00008b"/>
<rect x="1331" y="644" width="1" height="52" fill="#00008b"/>
<rect x="1339" y="644" width="1" height="43" fill="#00008b"/>
<rect x="1347" y="644" width="1" height="27" fill="#00008b"/>
<rect x="1355" y="644" width="1" height="14" fill="#00008b"/>
<rect x="1363" y="644" width="1" height="1" fill="#00008b"/>
<rect x="1371" y="634" width="1" height="11" fill="#00008b"/>
<rect x="1379" y="624" width="1" height="21" fill="#00008b"/>
<rect x="1387" y="620" width="1" height="25" fill="#00008b"/>
<rect x="1395" y="630" width="1" height="15" fill="#00008b"/>
<rect x="1403" y="635" width="1" height="10" fill="#00008b"/>
<rect x="1411" y="634" width="1" height="11" fill="#00008b"/>
<rect x="1419" y="631" width="1" height="14" fill="#00008b"/>
<rect x="1427" y="630" width="1" height="15" fill="#00008b"/>
<rect x="1435" y="632" width="1" height="13" fill="#00008b"/>
<rect x="1443" y="635" width="1" height="10" fill="#00008b"/>
<rect x="1451" y="641" width="1" height="4" fill="#00008b"/>
<rect x="1459" y="644" width="1" height="1" fill="#00008b"/>
<rect x="1467" y="644" width="1" height="2" fill="#00008b"/>
<rect x="1475" y="644" width="1" height="5" fill="#00008b"/>
<rect x="1483" y="644" width="1" height="7" fill="#00008b"/>
<polyline points="3.5,661.3 11.5,666.3 19.5,676.3 27.5,686.3 35.5,687 43.5,688.8 51.5,692.5 59.5,700 67.5,711.3 75.5,714.3 83.5,714.3 91.5,714.5 99.5,718 107.5,723 115.5,722 123.5,720 131.5,717 139.5,718.3 147.5,725 155.5,730.5 163.5,738.8 171.5,745 179.5,747.5 187.5,748.8 195.5,743.8 203.5,733.8 211.5,715.5 219.5,699.5 227.5,688.8 235.5,678.8 243.5,673.8 251.5,666.3 259.5,658 267.5,651.3 275.5,644.5 283.5,633.8 291.5,618.8 299.5,608 307.5,600 315.5,591.3 323.5,585 331.5,578 339.5,575 347.5,572 355.5,567.5 363.5,570 371.5,573 379.5,574.3 387.5,574 395.5,572.5 403.5,575.5 411.5,578 419.5,581.8 427.5,583.8 435.5,593 443.5,604.3 451.5,605.5 459.5,608.3 467.5,608.3 475.5,606.8 483.5,606.8 491.5,608.3 499.5,609.5 507.5,612 515.5,610.5 523.5,610 531.5,607.5 539.5,617 547.5,623.8 555.5,631.3 563.5,638.8 571.5,644.5 579.5,655.5 587.5,671.8 595.5,682.5 603.5,691.3 611.5,695.5 619.5,699.5 627.5,694.5 635.5,687.5 643.5,682.5 651.5,673.8 659.5,670 667.5,664.5 675.5,650 683.5,640 691.5,633.3 699.5,630.5 707.5,627 715.5,624.5 723.5,625.5 731.5,617.5 739.5,608 747.5,603 755.5,594.3 763.5,588.8 771.5,591.3 779.5,593.8 787.5,596.3 795.5,598 803.5,599.3 811.5,601.8 819.5,601.8 827.5,608.8 835.5,612.5 843.5,610 851.5,609.5 859.5,604.5 867.5,593.8 875.5,585.8 883.5,580.8 891.5,585.8 899.5,593.8 907.5,603.3 915.5,617.5 923.5,630 931.5,647.5 939.5,666.3 947.5,677.5 955.5,685.5 963.5,701.8 971.5,711.3 979.5,720 987.5,724.3 995.5,731.3 1003.5,737.5 1011.5,745.8 1019.5,744.5 1027.5,731.3 1035.5,717.5 1043.5,705 1051.5,695.8 1059.5,685.5 1067.5,687 1075.5,684.3 1083.5,683 1091.5,682 1099.5,682 1107.5,687.5 1115.5,691.3 1123.5,701.8 1131.5,717 1139.5,728.5 1147.5,738.8 1155.5,752.5 1163.5,765 1171.5,773.8 1179.5,778.8 1187.5,779.3 1195.5,781.3 1203.5,789.3 1211.5,795.5 1219.5,802.5 1227.5,808.8 1235.5,813 1243.5,810 1251.5,795 1259.5,783.8 1267.5,775.5 1275.5,763.5 1283.5,756.3 1291.5,752 1299.5,741.3 1307.5,730 1315.5,719.4 1323.5,707 1331.5,696.5 1339.5,687.3 1347.5,670.8 1355.5,658.3 1363.5,644.5 1371.5,633.8 1379.5,623.8 1387.5,620.5 1395.5,629.7 1403.5,635.3 1411.5,634.3 1419.5,630.8 1427.5,629.5 1435.5,631.5 1443.5,634.7 1451.5,640.9 1459.5,644.5 1467.5,646.5 1475.5,649.3 1483.5,651" fill="none" stroke="#c0c0c0" stroke-width="1"/>
<polyline points="3.5,662.5 19.5,662.5 35.5,666.3 51.5,673.8 67.5,685 75.5,692 91.5,701.3 107.5,708 123.5,715 139.5,718 155.5,722 171.5,727.5 187.5,732.5 203.5,737 211.5,737 219.5,734.3 227.5,729.5 235.5,722.5 243.5,715 251.5,706.3 259.5,696.3 267.5,686.8 275.5,676.3 283.5,666.3 291.5,656.3 299.5,647.5 307.5,638.8 315.5,630 323.5,621.3 331.5,611.3 339.5,602.5 347.5,594.5 355.5,587 363.5,582 371.5,577.5 379.5,574.5 387.5,573.8 395.5,572.5 411.5,572.5 427.5,575 443.5,580.5 459.5,588 475.5,595.5 491.5,602 507.5,607 523.5,608.8 531.5,608.3 539.5,609.3 547.5,610.8 555.5,613.6 563.5,617 571.5,620.8 579.5,625 587.5,632.5 595.5,640.5 603.5,650 611.5,658.8 619.5,667.5 627.5,675 635.5,680.8 643.5,685 651.5,687 659.5,686.8 667.5,685 675.5,680.8 683.5,675 691.5,668.8 699.5,662 707.5,654.5 715.5,647.5 723.5,642 731.5,635.8 739.5,628.8 747.5,623 755.5,617 763.5,613 771.5,608.8 779.5,604.5 787.5,601.3 795.5,598 803.5,596.5 811.5,596.3 819.5,595.5 827.5,597.5 835.5,600.5 843.5,602 851.5,603.3 859.5,604.3 867.5,603.8 875.5,602 883.5,600 891.5,598.3 899.5,596.8 907.5,596.3 915.5,596.3 923.5,598.8 931.5,602.5 939.5,611.3 947.5,621.3 955.5,633.8 963.5,646.3 971.5,660 979.5,673.8 987.5,686.3 995.5,697.5 1003.5,707 1011.5,715 1019.5,722 1027.5,727.5 1035.5,730 1043.5,729.3 1051.5,726.3 1059.5,722.5 1067.5,718.3 1075.5,712 1083.5,705 1091.5,697.5 1099.5,691.8 1107.5,688 1115.5,686.3 1123.5,687 1131.5,690.5 1139.5,695 1147.5,700.5 1155.5,708 1163.5,718 1171.5,728.8 1179.5,739.5 1187.5,748.8 1195.5,757.5 1203.5,765.8 1211.5,774.5 1219.5,781.3 1227.5,787 1235.5,791.8 1243.5,795.8 1251.5,797 1259.5,798 1267.5,797 1275.5,793.8 1283.5,790 1291.5,785 1299.5,777 1307.5,767.5 1315.5,757.5 1323.5,747.5 1331.5,737.5 1339.5,728 1347.5,717.5 1355.5,706.3 1363.5,693.8 1371.5,682 1379.5,669 1387.5,660 1395.5,652.5 1403.5,645 1411.5,639 1419.5,634.5 1427.5,631 1435.5,629.3 1443.5,629.3 1451.5,631.4 1459.5,634.3 1467.5,636.3 1475.5,638.2 1483.5,640.3" fill="none" stroke="#000" stroke-width="1"/>
</g>
<g shape-rendering="crispEdges" fill="#000">
<rect x="2" y="2" width="1501" height="1"/>
<rect x="2" y="2" width="1" height="550"/><rect x="2" y="553" width="1" height="274"/>
<rect x="1502" y="2" width="1" height="550"/><rect x="1502" y="553" width="1" height="274"/>
<rect x="2" y="551" width="1501" height="1"/>
<rect x="2" y="553" width="1501" height="1"/>
<rect x="2" y="826" width="1501" height="1"/>
<rect x="1503" y="42" width="2" height="1"/>
<rect x="1503" y="91" width="2" height="1"/>
<rect x="1503" y="140" width="2" height="1"/>
<rect x="1503" y="189" width="2" height="1"/>
<rect x="1503" y="238" width="2" height="1"/>
<rect x="1503" y="287" width="2" height="1"/>
<rect x="1503" y="336" width="2" height="1"/>
<rect x="1503" y="385" width="2" height="1"/>
<rect x="1503" y="434" width="2" height="1"/>
<rect x="1503" y="483" width="2" height="1"/>
<rect x="1503" y="532" width="2" height="1"/>
<rect x="1503" y="555" width="1" height="1"/>
<rect x="1503" y="644" width="2" height="1"/>
<rect x="1503" y="825" width="1" height="1"/>
<rect x="3" y="827" width="1" height="3"/>
<rect x="99" y="827" width="1" height="3"/>
<rect x="195" y="827" width="1" height="3"/>
<rect x="291" y="827" width="1" height="3"/>
<rect x="387" y="827" width="1" height="3"/>
<rect x="483" y="827" width="1" height="3"/>
<rect x="579" y="827" width="1" height="3"/>
<rect x="675" y="827" width="1" height="3"/>
<rect x="771" y="827" width="1" height="3"/>
<rect x="867" y="827" width="1" height="3"/>
<rect x="963" y="827" width="1" height="3"/>
<rect x="1059" y="827" width="1" height="3"/>
<rect x="1155" y="827" width="1" height="3"/>
<rect x="1251" y="827" width="1" height="3"/>
<rect x="1347" y="827" width="1" height="3"/>
<rect x="1443" y="827" width="1" height="3"/>
<polygon points="6,10 15,10 10.5,15"/>
</g>
<text x="1509" y="46.8" textLength="45.5" lengthAdjust="spacing">1.22330</text>
<text x="1509" y="95.8" textLength="45.5" lengthAdjust="spacing">1.21935</text>
<text x="1509" y="144.8" textLength="45.5" lengthAdjust="spacing">1.21545</text>
<text x="1509" y="193.8" textLength="45.5" lengthAdjust="spacing">1.21150</text>
<text x="1509" y="242.8" textLength="45.5" lengthAdjust="spacing">1.20755</text>
<text x="1509" y="291.8" textLength="45.5" lengthAdjust="spacing">1.20365</text>
<text x="1509" y="340.8" textLength="45.5" lengthAdjust="spacing">1.19970</text>
<text x="1509" y="389.8" textLength="45.5" lengthAdjust="spacing">1.19575</text>
<text x="1509" y="438.8" textLength="45.5" lengthAdjust="spacing">1.19185</text>
<text x="1509" y="487.8" textLength="45.5" lengthAdjust="spacing">1.18790</text>
<text x="1509" y="536.8" textLength="45.5" lengthAdjust="spacing">1.18395</text>
<g shape-rendering="crispEdges">
<rect x="1504" y="339" width="56" height="14" fill="#f00"/>
<rect x="1504" y="415" width="56" height="14" fill="#000"/>
<rect x="1504" y="436" width="56" height="14" fill="#f00"/>
</g>
<text x="1509" y="351" class="tw" textLength="45.5">1.19900</text>
<text x="1509" y="427" class="tw" textLength="45.5">1.19280</text>
<text x="1509" y="448" class="tw" textLength="45.5">1.19123</text>
<text x="1506.2" y="566.8" textLength="45">0.00298</text>
<text x="1506.2" y="648.6" textLength="24">0.00</text>
<text x="1506" y="822.8" textLength="55.5">-0.005994</text>
<text x="21" y="17" textLength="62.5" lengthAdjust="spacingAndGlyphs">EURUSD,H4</text>
<text x="93.4" y="17" textLength="45.5">1.19227</text>
<text x="143.3" y="17" textLength="45.5">1.19284</text>
<text x="193.2" y="17" textLength="45.5">1.19221</text>
<text x="243.1" y="17" textLength="45.5">1.19280</text>
<text x="7.3" y="569" textLength="84.5" lengthAdjust="spacingAndGlyphs">MACD(12,26,9)</text>
<text x="95.9" y="569" textLength="56" lengthAdjust="spacingAndGlyphs">-0.000228</text>
<text x="157" y="569" textLength="52.3" lengthAdjust="spacingAndGlyphs">0.000157</text>
<text x="218" y="569" textLength="46.3" lengthAdjust="spacingAndGlyphs">-&gt;MA(1)</text>
<text x="269.2" y="569" textLength="56.3" lengthAdjust="spacingAndGlyphs">-0.000228</text>
<text x="2" y="842" letter-spacing="0.17">1 Feb 2021</text>
<text x="98" y="842" letter-spacing="0.17">3 Feb 08:00</text>
<text x="194" y="842" letter-spacing="0.17">5 Feb 08:00</text>
<text x="290" y="842" letter-spacing="0.17">9 Feb 08:00</text>
<text x="386" y="842" letter-spacing="0.17">11 Feb 08:00</text>
<text x="482" y="842" letter-spacing="0.17">15 Feb 08:00</text>
<text x="578" y="842" letter-spacing="0.17">17 Feb 08:00</text>
<text x="674" y="842" letter-spacing="0.17">19 Feb 08:00</text>
<text x="770" y="842" letter-spacing="0.17">23 Feb 08:00</text>
<text x="866" y="842" letter-spacing="0.17">25 Feb 08:00</text>
<text x="962" y="842" letter-spacing="0.17">1 Mar 08:00</text>
<text x="1058" y="842" letter-spacing="0.17">3 Mar 08:00</text>
<text x="1154" y="842" letter-spacing="0.17">5 Mar 08:00</text>
<text x="1250" y="842" letter-spacing="0.17">9 Mar 08:00</text>
<text x="1346" y="842" letter-spacing="0.17">11 Mar 08:00</text>
<text x="1442" y="842" letter-spacing="0.17">15 Mar 08:00</text>
</svg></body></html>
